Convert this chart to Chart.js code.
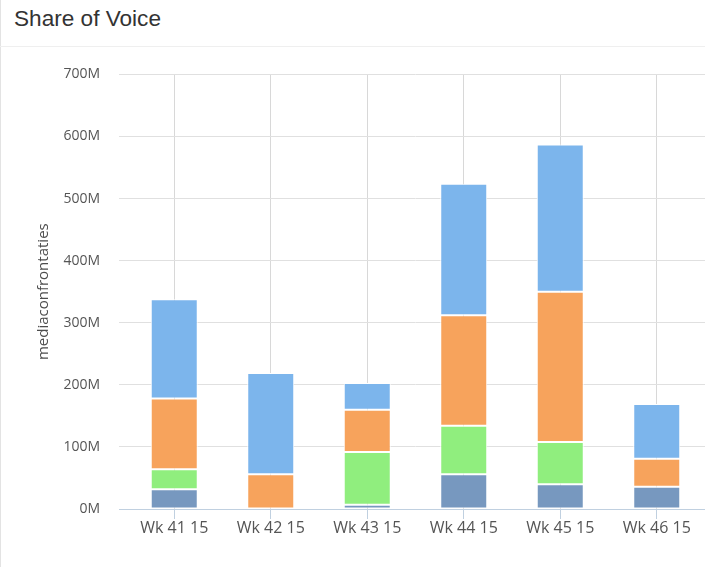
<!DOCTYPE html>
<html>
<head>
<meta charset="utf-8">
<script src="https://cdn.jsdelivr.net/npm/chart.js@4.4.1/dist/chart.umd.min.js"></script>
<style>
  html, body { margin: 0; padding: 0; background: #fff; }
  #wrap { position: relative; width: 705px; height: 567px; overflow: hidden; }
  #leftline { position: absolute; left: 0; top: 0; width: 1px; height: 567px; background: #e3e3e3; }
  #title { position: absolute; left: 14px; top: 8px; font-family: "Liberation Sans", Arial, sans-serif; font-size: 22.6px; line-height: 22px; color: #333; }
  #sep { position: absolute; left: 0; top: 46px; width: 705px; height: 1px; background: #efefef; }
  #c { position: absolute; left: 1px; top: 47px; }
</style>
</head>
<body>
<div id="wrap">
  <div id="leftline"></div>
  <div id="title">Share of Voice</div>
  <div id="sep"></div>
  <canvas id="c" width="704" height="520"></canvas>
</div>
<script>
// Categories (weeks)
const categories = ["Wk 41 15", "Wk 42 15", "Wk 43 15", "Wk 44 15", "Wk 45 15", "Wk 46 15"];
// Series values in millions of media confrontations (bottom to top)
const seriesD = [32, 0, 7, 56, 40, 36];       // dark blue (bottom)
const seriesC = [32, 0, 85, 78, 68, 0];       // green
const seriesB = [114, 56, 68, 178, 242, 45];  // orange
const seriesA = [160, 163, 43, 212, 237, 88]; // light blue (top)
// Y-axis ticks
const yTicks = [0, 100, 200, 300, 400, 500, 600, 700];
const yTitle = "mediaconfrontaties";

const colD = "#7798BF", colC = "#90EE7E", colB = "#F7A35C", colA = "#7CB5EC";

function ds(label, data, color) {
  return {
    label, data,
    backgroundColor: color,
    borderColor: "#ffffff",
    borderWidth: 1,
    borderSkipped: false,
    categoryPercentage: 1.0,
    barPercentage: 0.487
  };
}

new Chart(document.getElementById("c"), {
  type: "bar",
  data: {
    labels: categories,
    datasets: [
      ds("Serie 4", seriesD, colD),
      ds("Serie 3", seriesC, colC),
      ds("Serie 2", seriesB, colB),
      ds("Serie 1", seriesA, colA)
    ]
  },
  options: {
    responsive: false,
    devicePixelRatio: 1,
    animation: false,
    layout: { padding: { top: 24, right: 0, left: 0, bottom: 0 } },
    plugins: {
      legend: { display: false },
      tooltip: { enabled: false },
      title: { display: false }
    },
    scales: {
      x: {
        stacked: true,
        grid: {
          offset: false,
          color: "#d8d8d8",
          lineWidth: 1,
          drawTicks: true,
          tickLength: 10,
          tickColor: "#C0D0E0"
        },
        border: { display: true, color: "#C0D0E0", width: 1 },
        ticks: {
          color: "#555",
          padding: 0,
          maxRotation: 0,
          font: { family: "'Open Sans', sans-serif", size: 16 }
        },
        afterFit(scale) { scale.height = 58; }
      },
      y: {
        stacked: true,
        min: 0,
        max: 700,
        afterBuildTicks(scale) { scale.ticks = yTicks.map(v => ({ value: v })); },
        grid: {
          color: ctx => (ctx.tick && ctx.tick.value === 0) ? "#C0D0E0" : "#e0e0e0",
          tickColor: ctx => (ctx.tick && ctx.tick.value === 0) ? "#C0D0E0" : "#e0e0e0",
          drawTicks: true,
          tickLength: 7,
          lineWidth: 1
        },
        border: { display: false },
        ticks: {
          color: "#555",
          padding: 19,
          font: { family: "'Open Sans', sans-serif", size: 14 },
          callback: v => v + "M"
        },
        title: {
          display: true,
          text: yTitle,
          color: "#4d4d4d",
          font: { family: "'Open Sans', sans-serif", size: 15 },
          padding: { top: 34, bottom: 0 }
        },
        afterFit(scale) { scale.width = 125; }
      }
    }
  }
});
</script>
</body>
</html>
